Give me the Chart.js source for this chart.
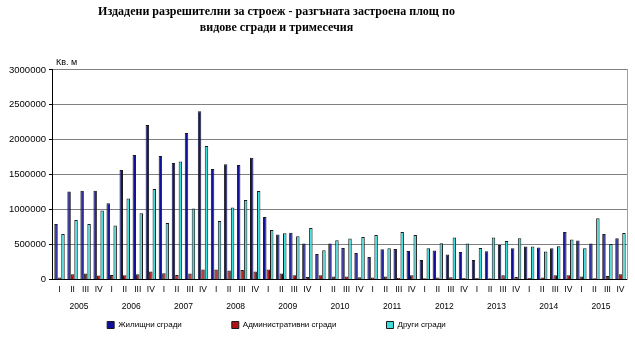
<!DOCTYPE html>
<html>
<head>
<meta charset="utf-8">
<script src="https://cdn.jsdelivr.net/npm/chart.js@4/dist/chart.umd.min.js"></script>
<style>
    body { margin: 0; background: #fff; }
    #wrap { width: 635px; height: 338px; }
</style>
</head>
<body>
<div id="wrap"><canvas id="myChart"></canvas></div>
<script>
/*
    Permits issued - gross floor area by building type and quarter
*/

const quarters = ['I', 'II', 'III', 'IV'];
const years = ['2005', '2006', '2007', '2008', '2009', '2010', '2011', '2012', '2013', '2014', '2015'];

// x-axis labels = one roman numeral per quarter
const xQuarters = [];
years.forEach(() => quarters.forEach(q => xQuarters.push(q)));

// sq. m
const residential = [
    796000, 1259000, 1273000, 1273000,
    1092000, 1569000, 1784000, 2213000,
    1769000, 1669000, 2098000, 2408000,
    1583000, 1650000, 1641000, 1745000,
    897000, 644000, 672000, 515000,
    367000, 515000, 453000, 382000,
    324000, 434000, 439000, 410000,
    281000, 415000, 358000, 396000,
    281000, 405000, 496000, 448000,
    472000, 458000, 448000, 682000,
    558000, 515000, 653000, 591000
];
const administrative = [
    30000, 77000, 86000, 57000,
    67000, 62000, 77000, 115000,
    91000, 67000, 86000, 144000,
    144000, 129000, 139000, 115000,
    144000, 86000, 62000, 38000,
    62000, 43000, 43000, 33000,
    29000, 43000, 24000, 62000,
    19000, 29000, 33000, 24000,
    24000, 19000, 62000, 38000,
    24000, 29000, 62000, 62000,
    43000, 19000, 53000, 77000
];
const other = [
    653000, 854000, 796000, 987000,
    773000, 1159000, 949000, 1297000,
    811000, 1688000, 1016000, 1912000,
    839000, 1030000, 1140000, 1269000,
    711000, 663000, 620000, 739000,
    420000, 563000, 587000, 610000,
    639000, 448000, 682000, 639000,
    448000, 520000, 601000, 515000,
    453000, 601000, 553000, 591000,
    472000, 401000, 477000, 572000,
    448000, 877000, 510000, 668000
];

const sans = '"Liberation Sans", Arial, sans-serif';
const legendGap = 50;      // horizontal space between legend entries

// title and legend sit a bit left of the canvas centre in the original;
// the legend is also pulled up because its padding is used for the wide spacing
const shiftBlocks = {
    id: 'shiftBlocks',
    afterLayout(chart) {
        const dx = -40;
        chart.titleBlock.left += dx;
        chart.titleBlock.right += dx;
        const lg = chart.legend;
        lg.left += dx;
        lg.right += dx;
        lg.top = 321 - legendGap;
        lg.bottom = chart.height;
    }
};

// unit label above the y axis
const unitLabel = {
    id: 'unitLabel',
    afterDraw(chart) {
        const c = chart.ctx;
        c.save();
        c.font = '9px ' + sans;
        c.fillStyle = '#000';
        c.textBaseline = 'bottom';
        c.fillText('Кв. м', chart.chartArea.left + 3, chart.chartArea.top - 3);
        c.restore();
    }
};

const barStyle = {
    borderWidth: 1,
    borderColor: '#1a1a1a',
    barPercentage: 1.0,
    categoryPercentage: 0.8
};

const ctx = document.getElementById('myChart');
const myChart = new Chart(ctx, {
    type: 'bar',
    data: {
        labels: xQuarters,
        datasets: [
            { label: 'Жилищни сгради', data: residential, backgroundColor: '#10109a', ...barStyle },
            { label: 'Административни сгради', data: administrative, backgroundColor: '#b31212', ...barStyle },
            { label: 'Други сгради', data: other, backgroundColor: '#3cdede', ...barStyle }
        ]
    },
    options: {
        responsive: true,
        maintainAspectRatio: false,
        animation: false,
        layout: { padding: { left: 6, right: 8, top: 2, bottom: 16 } },
        scales: {
            x: {
                grid: { display: false, drawTicks: false },
                border: { display: true, color: '#000' },
                ticks: {
                    autoSkip: false, maxRotation: 0, padding: 5, color: '#000',
                    font: { family: sans, size: 8.5 }
                }
            },
            xYears: {
                type: 'category',
                labels: years,
                position: 'bottom',
                offset: true,
                grid: { display: false, drawTicks: false },
                border: { display: false },
                ticks: {
                    maxRotation: 0, padding: 2, color: '#000',
                    font: { family: sans, size: 8.5 }
                }
            },
            y: {
                min: 0,
                max: 3000000,
                ticks: {
                    stepSize: 500000, padding: 3, color: '#000',
                    font: { family: sans, size: 9.5 },
                    callback: val => String(val)    // no thousands separators
                },
                grid: { color: '#808080', tickLength: 4, tickColor: '#000' },
                border: { display: true, color: '#000' }
            },
            yRight: {
                position: 'right',
                min: 0,
                max: 3000000,
                ticks: { display: false },
                grid: { display: false, drawTicks: false },
                border: { display: true, color: '#a0a0a0' }
            }
        },
        plugins: {
            title: {
                display: true,
                text: ['Издадени разрешителни за строеж - разгъната застроена площ по', 'видове сгради и тримесечия'],
                color: '#000',
                font: { family: '"Liberation Serif", "Times New Roman", serif', size: 12, weight: 'bold', lineHeight: 1.33 },
                padding: { top: 2, bottom: 34 }
            },
            legend: {
                position: 'bottom',
                maxHeight: 8,
                labels: {
                    boxWidth: 7, boxHeight: 7, padding: legendGap, color: '#000',
                    font: { family: sans, size: 8 }
                }
            },
            tooltip: { enabled: false }
        }
    },
    plugins: [shiftBlocks, unitLabel]
});
</script>
</body>
</html>
